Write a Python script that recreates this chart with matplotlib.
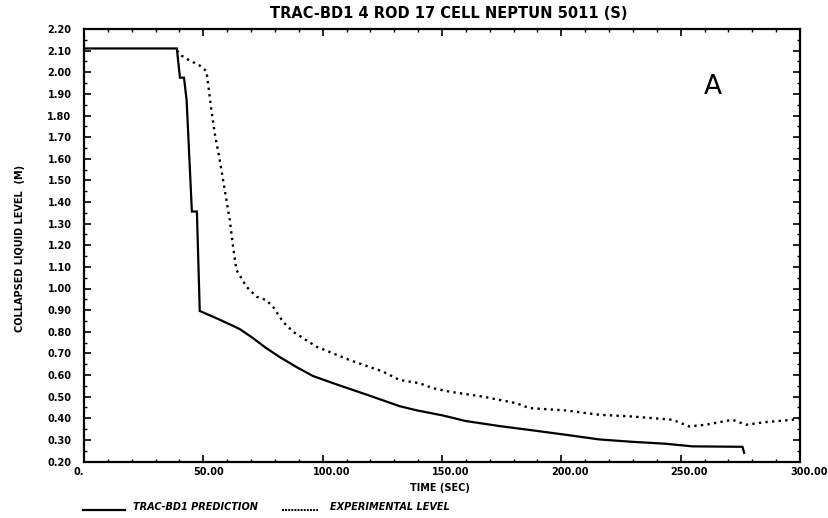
import matplotlib
matplotlib.use("Agg")
import matplotlib.pyplot as plt
from matplotlib.ticker import MultipleLocator, FixedLocator, FixedFormatter
from matplotlib.lines import Line2D

# ---------------- data ----------------
t_pred = [0, 38.9, 40.2, 41.9, 43.0, 45.2, 47.3, 48.5, 55.0, 62.5, 65.3, 70.9, 76.0,
          82.0, 89.0, 96.0, 105.7, 118.2, 132.2, 139.2, 150.3, 160.0, 174.0, 188.0,
          200.9, 215.9, 229.8, 243.8, 254.9, 275.9, 276.6]
v_pred = [2.11, 2.11, 1.975, 1.975, 1.87, 1.356, 1.356, 0.896, 0.865, 0.827, 0.812, 0.77, 0.727,
          0.683, 0.637, 0.595, 0.557, 0.51, 0.456, 0.437, 0.413, 0.387, 0.364, 0.344,
          0.325, 0.302, 0.291, 0.282, 0.27, 0.268, 0.24]

t_exp = [38.9, 40.9, 43.0, 48.5, 51.3, 52.0, 53.4, 54.8, 56.9, 59.0, 61.1, 62.5, 63.9,
         68.1, 72.3, 76.4, 79.2, 83.4, 87.6, 97.4, 111.3, 125.2, 132.2, 140.6, 146.2,
         153.1, 167.1, 181.0, 186.6, 202.0, 215.9, 229.8, 246.6, 253.6, 260.5, 271.7,
         277.3, 285.6, 296.8, 300.0]
v_exp = [2.10, 2.077, 2.062, 2.031, 2.005, 1.946, 1.823, 1.716, 1.592, 1.454, 1.315, 1.19, 1.085,
         1.008, 0.962, 0.946, 0.915, 0.846, 0.80, 0.731, 0.669, 0.616, 0.577, 0.562, 0.539,
         0.523, 0.50, 0.47, 0.447, 0.436, 0.416, 0.408, 0.393, 0.362, 0.37, 0.393,
         0.37, 0.382, 0.393, 0.40]

x_ticks = [0, 50, 100, 150, 200, 250, 300]
x_tick_labels = ["0.", "50.00", "100.00", "150.00", "200.00", "250.00", "300.00"]
y_ticks = [0.2, 0.3, 0.4, 0.5, 0.6, 0.7, 0.8, 0.9, 1.0, 1.1, 1.2, 1.3, 1.4, 1.5, 1.6,
           1.7, 1.8, 1.9, 2.0, 2.1, 2.2]
y_tick_labels = ["%.2f" % v for v in y_ticks]

title = "TRAC-BD1 4 ROD 17 CELL NEPTUN 5011 (S)"
xlabel = "TIME (SEC)"
ylabel = "COLLAPSED LIQUID LEVEL  (M)"
legend_labels = ["TRAC-BD1 PREDICTION", "EXPERIMENTAL LEVEL"]
panel_letter = "A"

# ---------------- figure ----------------
W, H = 829, 518
fig = plt.figure(figsize=(W / 100, H / 100), dpi=100)
ax = fig.add_axes([84 / W, 1 - 461.5 / H, (800 - 84) / W, (461.5 - 29) / H])

font = dict(family="DejaVu Sans", weight="bold")

ax.plot(t_pred, v_pred, color="black", lw=1.6, solid_joinstyle="miter")
ax.plot(t_exp, v_exp, color="black", lw=1.7, linestyle=(0, (1, 1.8)))

ax.set_xlim(0, 300)
ax.set_ylim(0.2, 2.2)

ax.xaxis.set_major_locator(FixedLocator(x_ticks))
ax.xaxis.set_major_formatter(FixedFormatter(x_tick_labels))
ax.xaxis.set_minor_locator(MultipleLocator(10))
ax.yaxis.set_major_locator(FixedLocator(y_ticks))
ax.yaxis.set_major_formatter(FixedFormatter(y_tick_labels))
ax.yaxis.set_minor_locator(MultipleLocator(0.05))

ax.tick_params(which="major", direction="in", length=5, width=1.2, top=True, right=True,
               labelsize=7)
ax.tick_params(which="minor", direction="in", length=2.5, width=1, top=True, right=True)
ax.tick_params(axis="y", which="major", pad=9)
ax.tick_params(axis="x", which="major", pad=4)
for lab in ax.get_xticklabels() + ax.get_yticklabels():
    lab.set_fontweight("bold")
    lab.set_family("DejaVu Sans")
for lab in ax.get_xticklabels():
    lab.set_horizontalalignment("left")
    lab.set_x(0)
# shift x labels so they start slightly left of tick
import matplotlib.transforms as mtransforms
off = mtransforms.ScaledTranslation(-10 / 100, 0, fig.dpi_scale_trans)
for lab in ax.get_xticklabels():
    lab.set_transform(lab.get_transform() + off)

for s in ax.spines.values():
    s.set_linewidth(1.6)

fig.text(449 / W, 1 - 14 / H, title, ha="center", va="center", fontsize=10.5, **font)
fig.text(440 / W, 1 - 488 / H, xlabel, ha="center", va="center", fontsize=7, **font)
fig.text(20 / W, 1 - 248 / H, ylabel, ha="center", va="center", rotation=90,
         fontsize=7, **font)
fig.text(713 / W, 1 - 87 / H, panel_letter, ha="center", va="center", fontsize=19,
         family="DejaVu Sans")

# bottom legend
ly = 1 - 507 / H
fig.add_artist(Line2D([83 / W, 125 / W], [ly - 3 / H, ly - 3 / H], color="black", lw=1.6))
fig.text(133 / W, ly, legend_labels[0], ha="left", va="center", fontsize=7,
         style="italic", **font)
fig.add_artist(Line2D([282 / W, 318 / W], [ly - 3 / H, ly - 3 / H], color="black", lw=1.4,
                      linestyle=(0, (1, 0.6))))
fig.text(330 / W, ly, legend_labels[1], ha="left", va="center", fontsize=7,
         style="italic", **font)

fig.savefig("out.png", dpi=100)
